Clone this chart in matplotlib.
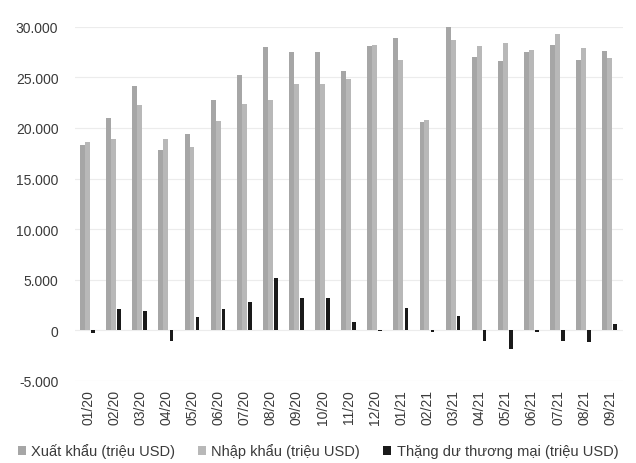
import matplotlib
matplotlib.use("Agg")
import matplotlib.pyplot as plt
from matplotlib.ticker import FuncFormatter
import numpy as np

plt.rcParams['font.family'] = ['Liberation Sans', 'DejaVu Sans']

months = ["01/20", "02/20", "03/20", "04/20", "05/20", "06/20", "07/20",
          "08/20", "09/20", "10/20", "11/20", "12/20", "01/21", "02/21",
          "03/21", "04/21", "05/21", "06/21", "07/21", "08/21", "09/21"]

exports = [18300, 21000, 24200, 17800, 19400, 22800, 25200, 28000, 27500,
           27500, 25600, 28100, 28900, 20600, 30100, 27000, 26600, 27500,
           28200, 26700, 27600]
imports = [18600, 18900, 22300, 18900, 18100, 20700, 22400, 22800, 24300,
           24300, 24800, 28200, 26700, 20800, 28700, 28100, 28400, 27700,
           29300, 27900, 26900]
surplus = [-300, 2100, 1900, -1100, 1300, 2100, 2800, 5200, 3200,
           3200, 800, -100, 2200, -200, 1400, -1100, -1800, -200,
           -1100, -1200, 600]

series_labels = ["Xuất khẩu (triệu USD)", "Nhập khẩu (triệu USD)",
                 "Thặng dư thương mại (triệu USD)"]

fig = plt.figure(figsize=(6.36, 4.64), dpi=100)
ax = fig.add_axes([0.118, 0.177, 0.862, 0.763])

x = np.arange(len(months))
ax.bar(x - 0.21, exports, width=0.19, color="#a6a6a6", label=series_labels[0], zorder=2)
ax.bar(x - 0.02, imports, width=0.19, color="#b8b8b8", label=series_labels[1], zorder=2)
ax.bar(x + 0.19, surplus, width=0.14, color="#1a1a1a", label=series_labels[2], zorder=2)

ax.set_xlim(-0.5, len(months) - 0.5)
ax.set_ylim(-5000, 30000)
ax.set_yticks(np.arange(-5000, 30001, 5000))
ax.yaxis.set_major_formatter(FuncFormatter(lambda v, p: f"{int(v):,}".replace(",", ".")))
ax.set_xticks(x)
ax.set_xticklabels(months, rotation=90)
ax.tick_params(axis="both", length=0, labelsize=10, colors="#3a3a3a")
ax.tick_params(axis="x", pad=6)
ax.tick_params(axis="y", pad=12)
ax.grid(axis="y", color="#ececec", linewidth=0.8, zorder=0)
for s in ax.spines.values():
    s.set_visible(False)

fig.legend(loc="center", bbox_to_anchor=(0.5, 0.026), ncol=3, frameon=False,
           fontsize=10.5, handlelength=0.55, handleheight=0.55, handletextpad=0.35,
           columnspacing=1.6, labelcolor="#3a3a3a")

fig.savefig("out.png", dpi=100, facecolor="white")
